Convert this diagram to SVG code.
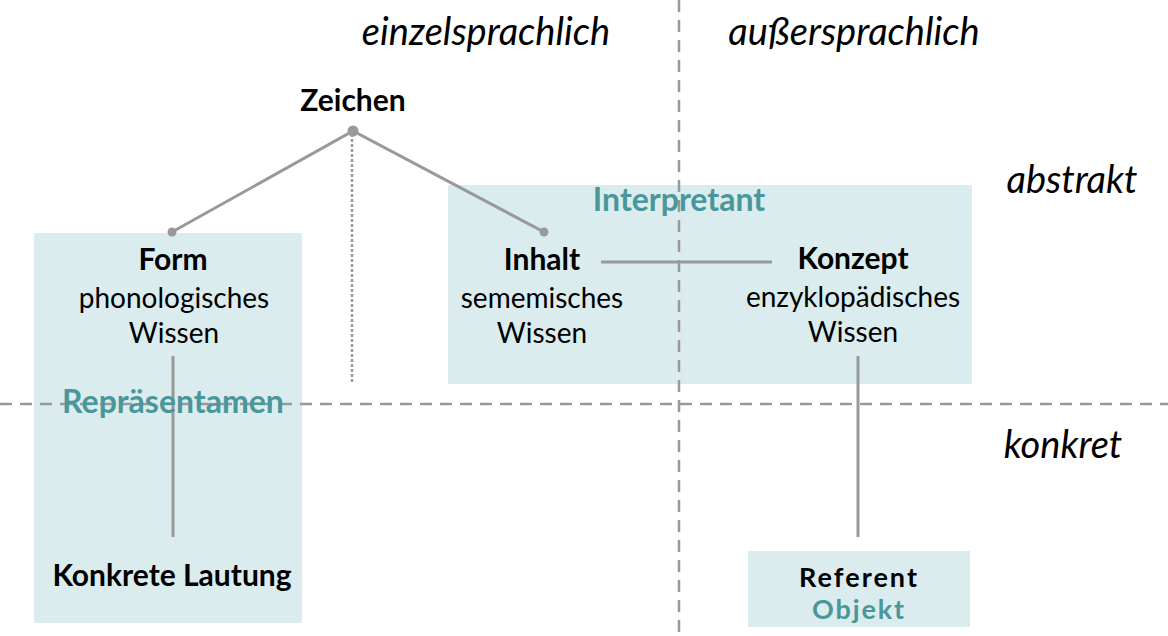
<svg xmlns="http://www.w3.org/2000/svg" width="1168" height="636" viewBox="0 0 1168 636">
<style>
text{font-family:Lato,"Open Sans","Liberation Sans",sans-serif;text-anchor:middle;fill:#000}
.b{font-weight:bold;font-size:30px}
.r{font-size:28px}
.t{font-weight:bold;font-size:32px;fill:#4a979b}
.s{font-size:27px}
.i{font-style:italic;font-size:38px}
.box{fill:#daecee}
.ln{stroke:#999;stroke-width:3;fill:none}
.dash{stroke:#999;stroke-width:2.5;stroke-dasharray:12 8;fill:none}
.dot{fill:#999}
</style>
<g id="boxes">
<rect class="box" x="34" y="233" width="268" height="390"/>
<rect class="box" x="448" y="185" width="524" height="199"/>
<rect class="box" x="748" y="551" width="222" height="76"/>
</g>
<g id="axes">
<line class="dash" x1="679" y1="0" x2="679" y2="636"/>
<line class="dash" x1="0" y1="404" x2="1168" y2="404"/>
<text class="i" x="486" y="45">einzelsprachlich</text>
<text class="i" x="854" y="45">außersprachlich</text>
<text class="i" x="1072" y="193">abstrakt</text>
<text class="i" x="1063" y="458">konkret</text>
</g>
<g id="connectors">
<line x1="352" y1="134" x2="352" y2="383" stroke="#999" stroke-width="2.5" stroke-dasharray="3 2"/>
<polyline class="ln" points="172,232 353,131 544,232"/>
<line class="ln" x1="601" y1="262" x2="772" y2="262"/>
<line class="ln" x1="173" y1="356" x2="173" y2="537"/>
<line class="ln" x1="858" y1="356" x2="858" y2="537"/>
<circle class="dot" cx="353" cy="131" r="5.5"/>
<circle class="dot" cx="172" cy="232" r="4.5"/>
<circle class="dot" cx="544" cy="232" r="4.5"/>
</g>
<g id="zeichen"><text class="b" x="353" y="111">Zeichen</text></g>
<g id="form">
<text class="b" x="173" y="270">Form</text>
<text class="r" x="174" y="308">phonologisches</text>
<text class="r" x="174" y="343">Wissen</text>
</g>
<g id="repraesentamen"><text class="t" x="173" y="413">Repräsentamen</text></g>
<g id="interpretant"><text class="t" x="679" y="211">Interpretant</text></g>
<g id="inhalt">
<text class="b" x="542" y="270">Inhalt</text>
<text class="r" x="542" y="308">sememisches</text>
<text class="r" x="542" y="343">Wissen</text>
</g>
<g id="konzept">
<text class="b" x="853" y="269">Konzept</text>
<text class="r" x="853" y="307">enzyklopädisches</text>
<text class="r" x="853" y="342">Wissen</text>
</g>
<g id="lautung"><text class="b" x="172" y="586">Konkrete Lautung</text></g>
<g id="referent">
<text class="s" x="858" y="587" font-weight="bold" textLength="118">Referent</text>
<text class="s" x="858" y="619" font-weight="bold" fill="#4a979b" style="fill:#4a979b" textLength="92">Objekt</text>
</g>
</svg>
